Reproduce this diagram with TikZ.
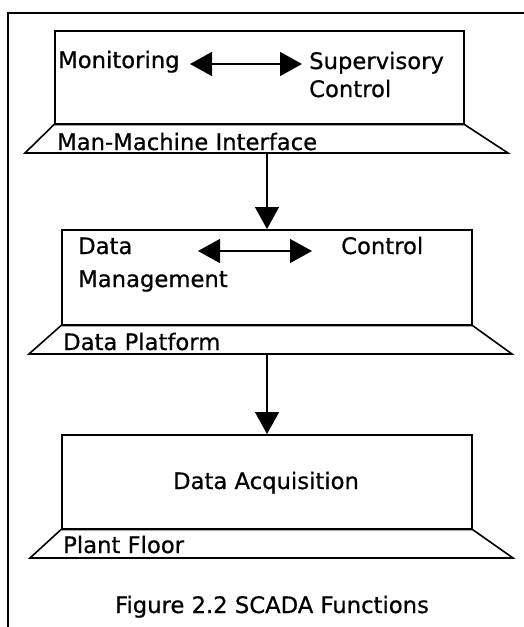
\documentclass[tikz,border=0pt]{standalone}
\usepackage{fontspec}
\setmainfont{DejaVu Sans}[BoldFont={DejaVu Sans},BoldFeatures={FakeBold=0.6}]
\usetikzlibrary{arrows.meta}
\begin{document}
\begin{tikzpicture}[x=1pt,y=-1pt,
  every node/.style={inner sep=0pt,font=\fontsize{22.7}{29}\selectfont\bfseries},
  txt/.style={anchor=base west},
  layerbox/.style={draw,line width=1.6pt,minimum width=#1,anchor=north west},
  platform/.style={draw,line width=1.6pt,line join=miter},
  flow/.style={line width=1.4pt,-{Triangle[length=22pt,width=24pt]}},
  both/.style={line width=1.4pt,{Triangle[length=22pt,width=24pt]}-{Triangle[length=22pt,width=24pt]}}]
\useasboundingbox (0,0) rectangle (524,627);
% outer frame (open at the right and bottom)
\draw[line width=1.8pt] (8,627) -- (8,13) -- (524,13);

% --- Man-Machine Interface layer ---
\node[layerbox=409pt,minimum height=93pt] (mmi) at (54,30) {};
\draw[platform] (mmi.south west) -- (mmi.south east) -- (508,153) -- (25,153) -- cycle;
\coordinate (mmiOut) at (267,153);
\node[txt] (mon) at (58,68) {Monitoring};
\node[txt] (sup) at (309,69) {Supervisory};
\node[txt] (supc) at (309,97) {Control};
\coordinate (a1) at (190,64);
\coordinate (a2) at (302,64);
\draw[both] (a1) -- (a2);
\node[txt] (mmiLabel) at (57,150) {Man-Machine Interface};

% --- Data Platform layer ---
\node[layerbox=410pt,minimum height=95pt] (dp) at (61,229) {};
\draw[platform] (dp.south west) -- (dp.south east) -- (512,354) -- (29,354) -- cycle;
\coordinate (dpOut) at (267,354);
\node[txt] (dm1) at (78,254) {Data};
\node[txt] (dm2) at (78,287) {Management};
\node[txt] (ctl) at (341,254) {Control};
\coordinate (b1) at (198,251);
\coordinate (b2) at (312,251);
\draw[both] (b1) -- (b2);
\node[txt] (dpLabel) at (63,350) {Data Platform};

% --- Plant Floor layer ---
\node[layerbox=410pt,minimum height=94pt] (pf) at (61,434) {};
\draw[platform] (pf.south west) -- (pf.south east) -- (513,558) -- (30,558) -- cycle;
\node[anchor=base] (acq) at (266,489) {Data Acquisition};
\node[txt] (pfLabel) at (63,553) {Plant Floor};

% flow between layers
\draw[flow] (mmiOut) -- (mmiOut |- dp.north);
\draw[flow] (dpOut) -- (dpOut |- pf.north);

% caption
\node[anchor=base] (cap) at (272,613) {Figure 2.2 SCADA Functions};
\end{tikzpicture}
\end{document}
